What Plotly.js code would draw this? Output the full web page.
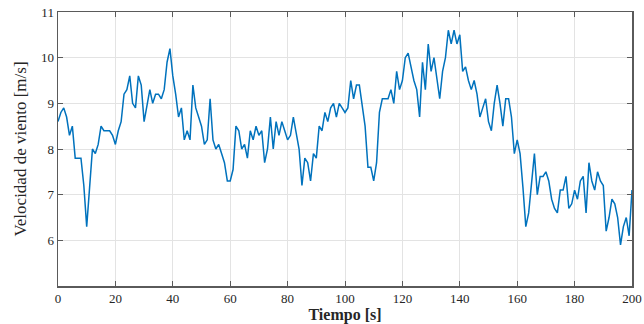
<!DOCTYPE html>
<html>
<head>
<meta charset="utf-8">
<script src="https://cdn.plot.ly/plotly-3.0.1.min.js"></script>
<style>html,body{margin:0;padding:0;background:#fff}#chart{width:644px;height:324px}</style>
</head>
<body>
<div id="chart"></div>
<script>
const tiempo = Array.from({length: 201}, (_, i) => i);
const velocidad = [
  8.6, 8.8, 8.9, 8.7, 8.3, 8.5, 7.8, 7.8, 7.8, 7.2,
  6.3, 7.15, 8.0, 7.9, 8.1, 8.5, 8.4, 8.4, 8.4, 8.3,
  8.1, 8.4, 8.6, 9.2, 9.3, 9.6, 9.0, 8.9, 9.6, 9.4,
  8.6, 8.95, 9.3, 9.0, 9.2, 9.2, 9.1, 9.3, 9.9, 10.2,
  9.6, 9.2, 8.7, 8.9, 8.2, 8.4, 8.2, 9.4, 8.9, 8.7,
  8.5, 8.1, 8.2, 9.1, 8.2, 8.0, 8.1, 7.9, 7.7, 7.3,
  7.3, 7.55, 8.5, 8.4, 8.0, 8.1, 7.8, 8.4, 8.2, 8.5,
  8.3, 8.4, 7.7, 8.0, 8.7, 8.0, 8.6, 8.3, 8.6, 8.4,
  8.2, 8.3, 8.7, 8.35, 8.0, 7.2, 7.8, 7.7, 7.3, 7.9,
  7.8, 8.5, 8.4, 8.8, 8.6, 8.9, 9.0, 8.7, 9.0, 8.9,
  8.8, 8.9, 9.5, 9.1, 9.4, 9.4, 9.0, 8.5, 7.6, 7.6,
  7.3, 7.7, 8.8, 9.1, 9.1, 9.1, 9.3, 9.0, 9.7, 9.3,
  9.5, 10.0, 10.1, 9.8, 9.5, 9.3, 8.7, 9.9, 9.3, 10.3,
  9.7, 10.0, 9.5, 9.1, 9.7, 10.0, 10.6, 10.3, 10.6, 10.3,
  10.5, 9.7, 9.8, 9.5, 9.3, 9.5, 9.2, 8.7, 8.9, 9.1,
  8.6, 8.4, 9.0, 9.4, 9.0, 8.5, 9.1, 9.1, 8.7, 7.9,
  8.2, 7.9, 7.16, 6.3, 6.6, 7.2, 7.9, 7.0, 7.4, 7.4,
  7.5, 7.3, 6.9, 6.7, 6.6, 7.1, 7.1, 7.4, 6.7, 6.8,
  7.1, 6.9, 7.3, 7.4, 6.6, 7.7, 7.3, 7.1, 7.5, 7.3,
  7.2, 6.2, 6.5, 6.9, 6.8, 6.5, 5.9, 6.3, 6.5, 6.1,
  7.1
];
const xTicks = [0, 20, 40, 60, 80, 100, 120, 140, 160, 180, 200];
const yTicks = [6, 7, 8, 9, 10, 11];

const serif = '"Liberation Serif", serif';
const axisCommon = {
  showline: true, mirror: 'ticks', linecolor: '#5a5a5a', linewidth: 1.5,
  ticks: 'inside', ticklen: 5, tickcolor: '#5a5a5a', tickwidth: 1,
  showgrid: true, gridcolor: '#e3e3e3', gridwidth: 1, zeroline: false,
  tickfont: {family: serif, size: 13, color: '#262626'}
};

Plotly.newPlot('chart', [{
  x: tiempo, y: velocidad, type: 'scatter', mode: 'lines',
  line: {color: '#0072BD', width: 1.5}, hoverinfo: 'skip'
}], {
  width: 644, height: 324,
  margin: {l: 58, r: 12, t: 12, b: 38},
  paper_bgcolor: '#fff', plot_bgcolor: '#fff',
  font: {family: serif},
  showlegend: false,
  xaxis: Object.assign({}, axisCommon, {
    range: [0, 200], tickmode: 'array', tickvals: xTicks,
    ticktext: xTicks.map(String),
    title: {text: '<b>Tiempo [s]</b>', font: {family: serif, size: 16, color: '#262626'}, standoff: 5}
  }),
  yaxis: Object.assign({}, axisCommon, {
    range: [5, 11], tickmode: 'array', tickvals: yTicks,
    ticktext: yTicks.map(String),
    title: {text: 'Velocidad de viento [m/s]', font: {family: serif, size: 17, color: '#262626'}, standoff: 10}
  })
}, {staticPlot: true});
</script>
</body>
</html>
